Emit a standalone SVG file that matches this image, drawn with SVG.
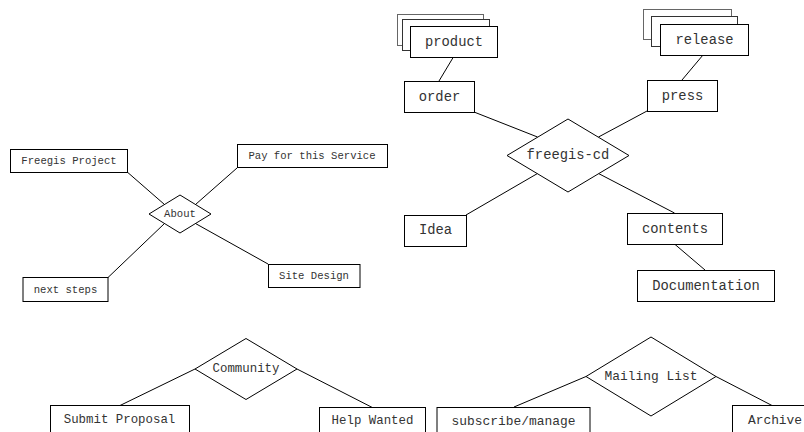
<svg xmlns="http://www.w3.org/2000/svg" width="804" height="432" viewBox="0 0 804 432">
<style>
.b{fill:#fff;stroke:#000;stroke-width:1}
.bk{fill:#fff;stroke:#666;stroke-width:1}
.md{fill:#fff;stroke:#333;stroke-width:1}
.c line{stroke:#000;stroke-width:1}
text{font-family:"Courier New","Liberation Mono","DejaVu Sans Mono",monospace;fill:#333;text-anchor:middle;dominant-baseline:central}
.s{font-size:10.6px}
.m{font-size:13.8px}
.l{font-size:12.4px}
.l2{font-size:12.9px}
</style>
<rect width="804" height="432" fill="#fff"/>
<g class="c">
<line x1="128" y1="172.7" x2="164.5" y2="204.5"/>
<line x1="237" y1="168" x2="195.5" y2="204.5"/>
<line x1="108" y1="277.5" x2="164.5" y2="223.5"/>
<line x1="268" y1="264" x2="195.5" y2="223.5"/>
<line x1="453" y1="57.7" x2="439" y2="81"/>
<line x1="474" y1="112" x2="537.5" y2="137"/>
<line x1="703" y1="55" x2="682" y2="80"/>
<line x1="647" y1="111" x2="598.5" y2="137"/>
<line x1="466" y1="215" x2="537.5" y2="173.5"/>
<line x1="674.5" y1="213" x2="598.5" y2="173.5"/>
<line x1="674.5" y1="244" x2="705" y2="270"/>
<line x1="120" y1="405.5" x2="195" y2="369"/>
<line x1="372.7" y1="407.7" x2="297" y2="369"/>
<line x1="514" y1="407" x2="586" y2="376.5"/>
<line x1="772" y1="405.5" x2="716" y2="376.5"/>
</g>
<g id="freegis-project"><rect class="b" x="10.5" y="149.5" width="117" height="23"/><text class="s" x="69" y="161">Freegis Project</text></g>
<g id="pay"><rect class="b" x="237.5" y="144.5" width="150" height="23"/><text class="s" x="312" y="156">Pay for this Service</text></g>
<g id="about"><polygon class="b" points="149,214 180,195 211,214 180,233"/><text class="s" x="180" y="214">About</text></g>
<g id="site-design"><rect class="b" x="268.5" y="264.5" width="91.5" height="23"/><text class="s" x="314" y="276">Site Design</text></g>
<g id="next-steps"><rect class="b" x="23" y="277.5" width="85" height="24"/><text class="s" x="65.5" y="289.5">next steps</text></g>
<g id="product"><rect class="bk" x="397.5" y="14.5" width="86" height="31"/><rect class="md" x="402.5" y="19.5" width="87" height="31"/><rect class="b" x="410.5" y="26.5" width="87" height="31"/><text class="m" x="454" y="42">product</text></g>
<g id="order"><rect class="b" x="404.5" y="81.5" width="70" height="31"/><text class="m" x="439.5" y="97">order</text></g>
<g id="release"><rect class="bk" x="643.5" y="9.5" width="88" height="30"/><rect class="md" x="651.5" y="16.5" width="86" height="30"/><rect class="b" x="660.5" y="24.5" width="88" height="31"/><text class="m" x="704.5" y="40">release</text></g>
<g id="press"><rect class="b" x="647.5" y="80.5" width="70" height="31"/><text class="m" x="682.5" y="96.5">press</text></g>
<g id="freegis-cd"><polygon class="b" points="507,155.5 568,119 629,155.5 568,192"/><text class="m" x="568" y="155">freegis-cd</text></g>
<g id="idea"><rect class="b" x="404.5" y="215.5" width="62" height="31"/><text class="m" x="435.5" y="230.5">Idea</text></g>
<g id="contents"><rect class="b" x="627.5" y="213.5" width="95" height="31"/><text class="m" x="675" y="229">contents</text></g>
<g id="documentation"><rect class="b" x="637.5" y="270.5" width="137" height="31"/><text class="m" x="706" y="286">Documentation</text></g>
<g id="community"><polygon class="b" points="195,369 246,338.5 297,369 246,399.5"/><text class="l" x="246" y="368.5">Community</text></g>
<g id="submit-proposal"><rect class="b" x="50.5" y="405.5" width="139" height="35"/><text class="l" x="119.5" y="419.5">Submit Proposal</text></g>
<g id="help-wanted"><rect class="b" x="319.5" y="407.5" width="106" height="35"/><text class="l" x="372.5" y="421">Help Wanted</text></g>
<g id="mailing-list"><polygon class="b" points="586,376.5 651,337 716,376.5 651,416"/><text class="l2" x="651" y="376.5">Mailing List</text></g>
<g id="subscribe"><rect class="b" x="437" y="407.5" width="153" height="35"/><text class="l2" x="513.5" y="421">subscribe/manage</text></g>
<g id="archive"><rect class="b" x="732.5" y="405.5" width="85" height="35"/><text class="l2" x="775" y="420">Archive</text></g>
</svg>
